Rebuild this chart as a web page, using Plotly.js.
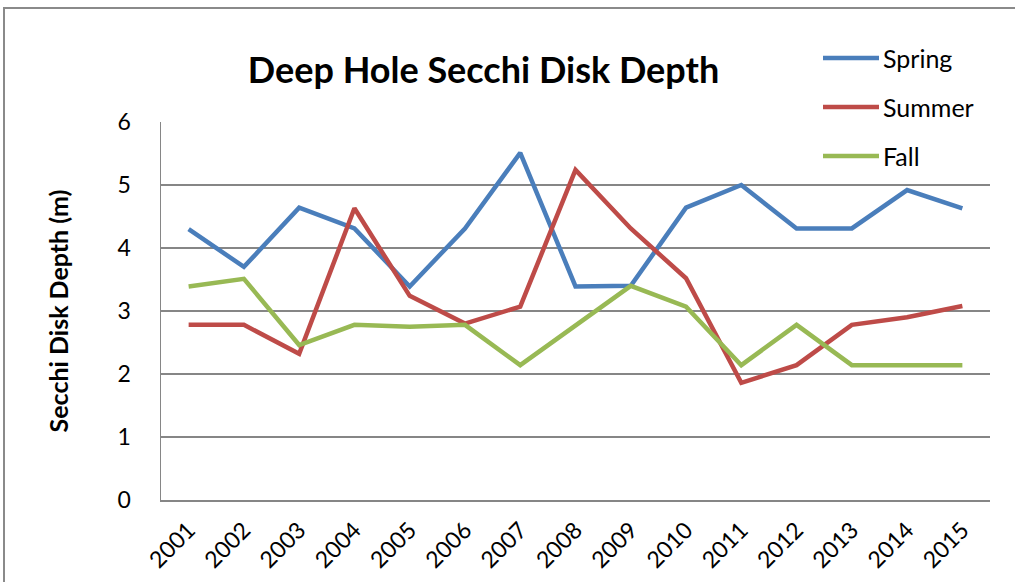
<!DOCTYPE html>
<html><head><meta charset="utf-8">
<script src="https://cdn.plot.ly/plotly-3.0.1.min.js"></script>
<style>html,body{margin:0;padding:0;background:#fff;}#chart{width:1015px;height:582px;}</style>
</head><body><div id="chart"></div>
<script>
const years = ["2001","2002","2003","2004","2005","2006","2007","2008","2009","2010","2011","2012","2013","2014","2015"];
const spring = [4.30,3.70,4.64,4.31,3.39,4.31,5.51,3.39,3.40,4.64,5.00,4.31,4.31,4.92,4.63];
const summer = [2.78,2.78,2.32,4.63,3.24,2.80,3.07,5.24,4.31,3.52,1.86,2.14,2.78,2.90,3.08];
const fall   = [3.39,3.51,2.46,2.78,2.75,2.78,2.14,2.77,3.40,3.07,2.14,2.78,2.14,2.14,2.14];
const seriesNames = ["Spring","Summer","Fall"];
const colors = ["#4A7EBB","#BE4B48","#98B954"];
const FONT = "Lato, 'Open Sans', sans-serif";

const traces = [spring, summer, fall].map((v,i)=>({
  x: years, y: v, type: "scatter", mode: "lines", name: seriesNames[i],
  line: {color: colors[i], width: 4.5}, showlegend: false
}));

// plot area in pixels: left 161, right 990, top 122, bottom 500
const px = p => (p - 161) / 829;
const py = p => (500 - p) / 378;

const shapes = [
  {type:"rect", xref:"paper", yref:"paper", x0:px(4), x1:1.06, y0:-0.25, y1:py(8),
   line:{color:"#8a8a8a", width:2}, fillcolor:"rgba(0,0,0,0)", layer:"below"},
  // legend background (hides the top gridline behind the legend, as in the original)
  {type:"rect", xref:"paper", yref:"paper", x0:px(811), x1:px(1000), y0:py(172), y1:py(30),
   line:{width:0}, fillcolor:"#fff", layer:"above"}
];
const annotations = [];
const legendY = [58, 107, 156];
seriesNames.forEach((n,i)=>{
  shapes.push({type:"line", xref:"paper", yref:"paper", x0:px(823), x1:px(879), y0:py(legendY[i]), y1:py(legendY[i]),
               line:{color:colors[i], width:4.5}, layer:"above"});
  annotations.push({text:n, xref:"paper", yref:"paper", x:px(881), y:py(legendY[i]), xanchor:"left", yanchor:"middle",
                    showarrow:false, font:{size:25, family:FONT, color:"#000"}});
});

const layout = {
  width: 1015, height: 582,
  margin: {l:161, r:25, t:122, b:82},
  paper_bgcolor: "#fff", plot_bgcolor: "#fff",
  font: {family: FONT, color: "#000"},
  title: {text: "<b>Deep Hole Secchi Disk Depth</b>", font: {size: 36, family: FONT, color:"#000"},
          x: 0.4764, xanchor: "center", xref: "container", y: 0.8797, yanchor: "middle", yref: "container"},
  xaxis: {type: "category", range: [-0.5, 14.5], showgrid: false, zeroline: false,
          showline: true, linecolor: "#868686", linewidth: 1.5, ticklabelstandoff: 6,
          tickangle: -45, tickfont: {size: 23, family: FONT, color:"#000"}, ticks: "", ticklen: 0},
  yaxis: {range: [0, 6], dtick: 1, showgrid: true, gridcolor: "#868686", gridwidth: 1.3,
          zeroline: false, showline: true, linecolor: "#868686", linewidth: 1.5,
          tickfont: {size: 23, family: FONT, color:"#000"}, ticks: "", ticklabelstandoff: 24,
          title: {text: "<b>Secchi Disk Depth (m)</b>", font: {size: 25, family: FONT, color:"#000"}, standoff: 42}},
  showlegend: false,
  shapes: shapes,
  annotations: annotations
};

Plotly.newPlot("chart", traces, layout, {displayModeBar: false, staticPlot: true});
</script></body></html>
